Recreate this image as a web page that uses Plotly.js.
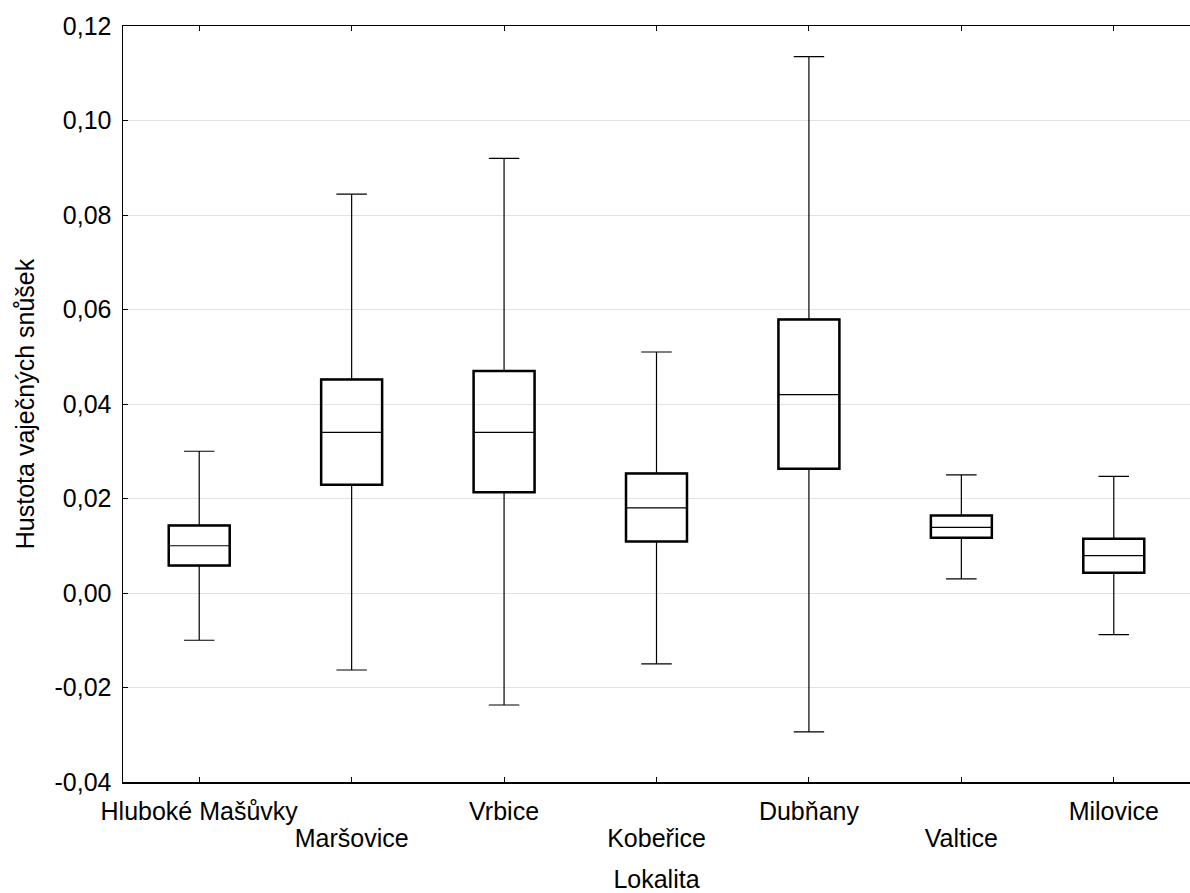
<!DOCTYPE html>
<html>
<head>
<meta charset="utf-8">
<script src="https://cdn.plot.ly/plotly-3.0.1.min.js"></script>
<style>
html,body{margin:0;padding:0;background:#fff;}
#chart{width:1190px;height:893px;}
</style>
</head>
<body>
<div id="chart"></div>
<script>
const categories = ["Hluboké Mašůvky","Maršovice","Vrbice","Kobeřice","Dubňany","Valtice","Milovice"];
const lowerWhisker = [-0.0100, -0.0163, -0.0237, -0.0150, -0.0294, 0.0030, -0.0088];
const boxLow       = [ 0.0058,  0.0229,  0.0213,  0.0109,  0.0263, 0.0117,  0.0043];
const medians      = [ 0.0100,  0.0340,  0.0340,  0.0180,  0.0420, 0.0139,  0.0079];
const boxHigh      = [ 0.0143,  0.0452,  0.0470,  0.0253,  0.0579, 0.0164,  0.0115];
const upperWhisker = [ 0.0300,  0.0844,  0.0920,  0.0510,  0.1135, 0.0250,  0.0247];
const yTickVals = [-0.04,-0.02,0,0.02,0.04,0.06,0.08,0.10,0.12];
const yTickText = ["-0,04","-0,02","0,00","0,02","0,04","0,06","0,08","0,10","0,12"];
const yTitle = "Hustota vaječných snůšek";
const xTitle = "Lokalita";

const idx = categories.map((c,i)=>i);
const boxWidth = 0.4;
const font = {family:"Liberation Sans, Arial, sans-serif", size:25, color:"#000"};

const trace = {
  type:"box",
  x: idx,
  q1: boxLow,
  median: medians,
  q3: boxHigh,
  lowerfence: lowerWhisker,
  upperfence: upperWhisker,
  width: boxWidth,
  whiskerwidth: 0.5,
  line:{color:"#000", width:1.2},
  fillcolor:"rgba(255,255,255,0)",
  boxpoints:false,
  hoverinfo:"skip",
  showlegend:false
};

// invisible helper trace so the second (staggered label) x axis is drawn
const helper = {
  type:"scatter", mode:"none", x: idx, y: medians,
  xaxis:"x2", yaxis:"y", hoverinfo:"skip", showlegend:false
};

const shapes = idx.map(i=>({
  type:"rect", xref:"x", yref:"y",
  x0:i-boxWidth/2, x1:i+boxWidth/2, y0:boxLow[i], y1:boxHigh[i],
  line:{color:"#000", width:2.5}, fillcolor:"rgba(0,0,0,0)", layer:"above"
}));

const evenText = categories.map((c,i)=> i%2===0 ? c : "");
const oddText  = categories.map((c,i)=> i%2===1 ? c : "");

const layout = {
  width:1190, height:893,
  margin:{l:123, r:0, t:26, b:111},
  paper_bgcolor:"#fff", plot_bgcolor:"#fff",
  font: font,
  showlegend:false,
  shapes: shapes,
  xaxis:{
    range:[-0.5,6.5],
    tickmode:"array", tickvals: idx, ticktext: evenText,
    ticks:"inside", ticklen:5, tickwidth:1, tickcolor:"#000",
    showline:true, linecolor:"#000", linewidth:1.5, mirror:"ticks",
    showgrid:false, zeroline:false,
    ticklabelstandoff: 6,
    tickfont: font,
    title:{text:xTitle, font:font, standoff:54}
  },
  xaxis2:{
    overlaying:"x", anchor:"y", side:"bottom", matches:"x",
    range:[-0.5,6.5],
    tickmode:"array", tickvals: idx, ticktext: oddText,
    ticks:"", showline:false, showgrid:false, zeroline:false,
    ticklabelstandoff: 39,
    tickfont: font
  },
  yaxis:{
    range:[-0.04,0.12],
    tickmode:"array", tickvals:yTickVals, ticktext:yTickText,
    ticks:"inside", ticklen:5, tickwidth:1, tickcolor:"#000",
    showline:true, linecolor:"#000", linewidth:1.5, mirror:false,
    showgrid:true, gridcolor:"#e2e2e2", gridwidth:1, zeroline:false,
    ticklabelstandoff: 5,
    tickfont: font,
    title:{text:yTitle, font:font, standoff:13}
  }
};

Plotly.newPlot("chart",[trace, helper],layout,{displayModeBar:false, staticPlot:true});
</script>
</body>
</html>
